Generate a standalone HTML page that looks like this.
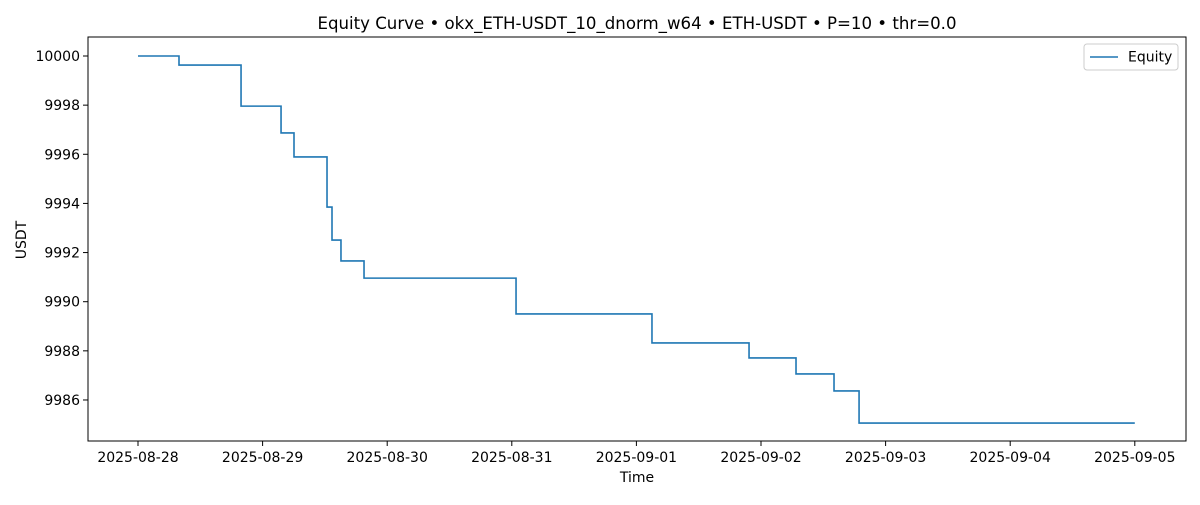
<!DOCTYPE html>
<html><head><meta charset="utf-8"><style>
body{margin:0;background:#fff;}
svg text{font-family:"DejaVu Sans","Liberation Sans",sans-serif;fill:#000;}
</style></head><body>
<svg id="chart" width="1200" height="500">
<rect x="0" y="0" width="1200" height="500" fill="#fff"/>
<text x="637" y="29" font-size="16.6" text-anchor="middle">Equity Curve • okx_ETH-USDT_10_dnorm_w64 • ETH-USDT • P=10 • thr=0.0</text>
<g id="xticks"></g><g id="yticks"></g>
<path id="line" fill="none" stroke="#1f77b4" stroke-width="1.6"/>
<rect x="88" y="37" width="1098" height="404" fill="none" stroke="#000" stroke-width="1"/>
<text x="637" y="482" font-size="14" text-anchor="middle">Time</text>
<text x="26" y="240" font-size="14" text-anchor="middle" transform="rotate(-90 26 240)">USDT</text>
<g>
<rect x="1084" y="44" width="94" height="26" rx="3" fill="#fff" stroke="#ccc"/>
<line x1="1090" y1="57" x2="1118" y2="57" stroke="#1f77b4" stroke-width="1.6"/>
<text x="1128" y="61.5" font-size="14">Equity</text>
</g>
</svg>
<script>
const xTickLabels=["2025-08-28","2025-08-29","2025-08-30","2025-08-31","2025-09-01","2025-09-02","2025-09-03","2025-09-04","2025-09-05"];
const yTickValues=[9986,9988,9990,9992,9994,9996,9998,10000];
const stepDays=[0,0.329,0.827,1.148,1.252,1.517,1.557,1.629,1.814,3.034,4.125,4.904,5.281,5.586,5.787,8.0];
const stepValues=[10000,9999.63,9997.96,9996.87,9995.89,9993.85,9992.51,9991.66,9990.96,9989.5,9988.32,9987.71,9987.06,9986.37,9985.06,9985.06];
const NS="http://www.w3.org/2000/svg";
const xs=d=>138+d*124.6;
const ys=v=>56+(10000-v)*24.57;
const xg=document.getElementById('xticks'),yg=document.getElementById('yticks');
xTickLabels.forEach((l,i)=>{
 const t=document.createElementNS(NS,'line');
 t.setAttribute('x1',xs(i));t.setAttribute('x2',xs(i));t.setAttribute('y1',441);t.setAttribute('y2',446);t.setAttribute('stroke','#000');
 
 
 xg.appendChild(t);
 const s=document.createElementNS(NS,'text');
 s.setAttribute('x',xs(i));s.setAttribute('y',462);s.setAttribute('font-size','14');s.setAttribute('text-anchor','middle');s.textContent=l;
 
 
 xg.appendChild(s);
});
yTickValues.forEach(v=>{
 const t=document.createElementNS(NS,'line');
 t.setAttribute('x1',83);t.setAttribute('x2',88);t.setAttribute('y1',ys(v));t.setAttribute('y2',ys(v));t.setAttribute('stroke','#000');
 
 
 yg.appendChild(t);
 const s=document.createElementNS(NS,'text');
 s.setAttribute('x',80);s.setAttribute('y',ys(v)+5);s.setAttribute('font-size','14');s.setAttribute('text-anchor','end');s.textContent=v;
 
 
 yg.appendChild(s);
});
let d='M'+xs(stepDays[0])+','+ys(stepValues[0]);
for(let i=1;i<stepDays.length;i++){d+=' L'+xs(stepDays[i])+','+ys(stepValues[i-1])+' L'+xs(stepDays[i])+','+ys(stepValues[i]);}
document.getElementById('line').setAttribute('d',d);
</script>
</body></html>
